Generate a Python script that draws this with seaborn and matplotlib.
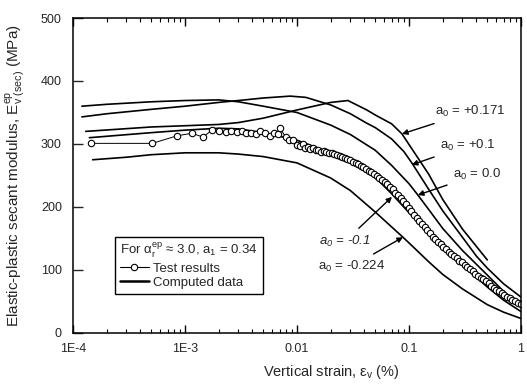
import numpy as np
import pandas as pd
import matplotlib
matplotlib.use('Agg')
import matplotlib.pyplot as plt
from matplotlib.lines import Line2D
import seaborn as sns


# ========== Data ==========

# computed curves, one per a0 value
strain_p171 = [1.3e-4, 5e-4, 1e-3, 2e-3, 3e-3, 5e-3, 0.01, 0.02, 0.0285, 0.042, 0.05, 0.07,
               0.0866, 0.12, 0.15, 0.2, 0.3, 0.5]
E_p171 = [320, 327, 329, 331, 334, 341, 354, 366, 369, 354, 346, 332,
          316, 278, 252, 212, 165, 116]

strain_p01 = [1.2e-4, 2e-4, 5e-4, 1e-3, 2e-3, 3e-3, 5e-3, 0.0087, 0.012, 0.02, 0.03, 0.042,
              0.05, 0.07, 0.09, 0.106, 0.15, 0.2, 0.3, 0.4, 0.5, 0.7, 1.0]
E_p01 = [343, 348, 355, 360, 366, 369, 373, 376, 374, 362, 348, 333,
         326, 308, 288, 270, 228, 194, 152, 122, 103, 78, 57]

strain_00 = [1.2e-4, 2e-4, 5e-4, 1e-3, 2e-3, 3e-3, 5e-3, 0.01, 0.02, 0.03, 0.05, 0.07,
             0.1, 0.12, 0.15, 0.2, 0.3, 0.5, 0.7, 1.0]
E_00 = [360, 363, 367, 369, 370, 367, 360, 350, 330, 315, 290, 266,
        237, 219, 196, 166, 131, 92, 66, 42]

strain_m01 = [1.4e-4, 5e-4, 1e-3, 2e-3, 3e-3, 5e-3, 0.01, 0.02, 0.03, 0.05, 0.07, 0.1,
              0.15, 0.2, 0.3, 0.5, 0.7, 1.0]
E_m01 = [310, 318, 322, 325, 324, 318, 306, 286, 270, 247, 221, 191,
         158, 137, 108, 73, 52, 34]

strain_m0224 = [1.5e-4, 3e-4, 5e-4, 1e-3, 2e-3, 3e-3, 5e-3, 0.01, 0.02, 0.03, 0.05, 0.0883,
                0.1, 0.15, 0.2, 0.3, 0.5, 0.7, 1.0]
E_m0224 = [275, 279, 283, 286, 286, 284, 280, 270, 246, 226, 192, 152,
           143, 113, 93, 70, 45, 33, 23]

# test results (open circles), sparse at small strain, dense band beyond 0.01 %
strain_test = [1.45e-4, 5.1e-4, 8.5e-4, 1.15e-3, 1.45e-3, 1.74e-3, 2.0e-3, 2.3e-3, 2.6e-3,
               2.9e-3, 3.2e-3, 3.5e-3, 3.9e-3, 4.3e-3, 4.7e-3, 5.2e-3, 5.7e-3, 6.2e-3,
               6.8e-3, 7.1e-3, 7.9e-3, 8.5e-3, 9.2e-3,
               0.0100, 0.0106, 0.0112, 0.0118, 0.0125, 0.0132, 0.0139, 0.0147, 0.0155,
               0.0164, 0.0173, 0.0183, 0.0193, 0.0204, 0.0215, 0.0227, 0.0240, 0.0253,
               0.0267, 0.0282, 0.0298, 0.0315, 0.0333, 0.0351, 0.0371, 0.0392, 0.0414,
               0.0437, 0.0461, 0.0487, 0.0514, 0.0543, 0.0573, 0.0605, 0.0639, 0.0675,
               0.0713, 0.0753, 0.0795, 0.0840, 0.0887, 0.0937, 0.0990, 0.105, 0.111,
               0.117, 0.124, 0.131, 0.138, 0.146, 0.154, 0.163, 0.172, 0.182, 0.192,
               0.203, 0.214, 0.226, 0.239, 0.252, 0.266, 0.281, 0.297, 0.314, 0.331,
               0.350, 0.370, 0.390, 0.412, 0.435, 0.460, 0.486, 0.513, 0.542, 0.572,
               0.604, 0.638, 0.674, 0.712, 0.752, 0.794, 0.839, 0.886, 0.935, 0.990]
E_test = [301, 301, 313, 317, 311, 322, 320, 319, 320,
          319, 320, 318, 318, 316, 321, 317, 313, 318,
          316, 325, 311, 307, 306,
          299, 297, 300, 294, 296, 292, 293, 290, 291,
          288, 289, 287, 286, 285, 284, 283, 281, 279,
          277, 276, 274, 272, 270, 268, 265, 263, 260,
          257, 255, 252, 249, 246, 243, 239, 236, 232,
          228, 223, 219, 214, 209, 204, 198, 193, 188,
          183, 178, 173, 168, 163, 158, 153, 149, 145,
          141, 137, 133, 129, 126, 122, 119, 115, 112,
          108, 105, 101, 98, 94, 91, 88, 85, 82,
          79, 75, 72, 69, 66, 63, 60, 57, 55,
          52, 50, 48, 46]

curve_labels = ['+0.171', '+0.1', '0.0', '-0.1', '-0.224']
curve_strains = [strain_p171, strain_p01, strain_00, strain_m01, strain_m0224]
curve_moduli = [E_p171, E_p01, E_00, E_m01, E_m0224]

xtick_vals = [1e-4, 1e-3, 1e-2, 1e-1, 1]
xtick_labels = ['1E-4', '1E-3', '0.01', '0.1', '1']
ytick_vals = [0, 100, 200, 300, 400, 500]


# ========== Figure ==========

sns.set_theme(style='ticks')
plt.rcParams['font.family'] = ['Liberation Sans', 'DejaVu Sans']
plt.rcParams['mathtext.default'] = 'regular'

computed = pd.concat([
    pd.DataFrame({'strain': s, 'E': e, 'a0': lab})
    for s, e, lab in zip(curve_strains, curve_moduli, curve_labels)
])
test = pd.DataFrame({'strain': strain_test, 'E': E_test})

fig = plt.figure(figsize=(5.27, 3.88), dpi=100)
ax = fig.add_axes([0.1385, 0.1418, 0.8501, 0.8118])

sns.lineplot(data=computed, x='strain', y='E', units='a0', estimator=None,
             sort=False, color='black', lw=1.2, ax=ax)
sns.lineplot(data=test, x='strain', y='E', estimator=None, sort=False,
             color='black', lw=0.7, marker='o', markersize=4.6,
             markerfacecolor='white', markeredgecolor='black',
             markeredgewidth=0.8, ax=ax)

ax.set_xscale('log')
ax.set_xlim(1e-4, 1)
ax.set_ylim(0, 500)
ax.set_xticks(xtick_vals)
ax.set_xticklabels(xtick_labels)
ax.set_yticks(ytick_vals)

ax.tick_params(axis='x', which='both', direction='in', top=True, bottom=True,
               labelsize=9, pad=7, color='black')
ax.tick_params(axis='x', which='major', length=6, width=1)
ax.tick_params(axis='x', which='minor', length=3, width=0.8)
ax.tick_params(axis='y', which='major', direction='in', left=True, right=False,
               length=7, width=1, labelsize=9, pad=8)
ax.yaxis.set_minor_locator(matplotlib.ticker.NullLocator())

for sp in ax.spines.values():
    sp.set_color('black')
    sp.set_linewidth(1.1)

ax.set_xlabel('Vertical strain, ε$_v$ (%)', fontsize=10.5)
ax.xaxis.set_label_coords(0.576, -0.095)
ax.set_ylabel('Elastic-plastic secant modulus, E$^{ep}_{v\\ (sec)}$ (MPa)', fontsize=11)
ax.yaxis.set_label_coords(-0.1, 0.5)

# ========== Annotations ==========

arrow = dict(arrowstyle='-|>', color='black', lw=1, mutation_scale=8, shrinkA=2, shrinkB=0)
ax.annotate('a$_0$ = +0.171', xy=(0.0866, 316), xytext=(0.171, 351),
            ha='left', va='center', fontsize=9.5, arrowprops=arrow)
ax.annotate('a$_0$ = +0.1', xy=(0.106, 267), xytext=(0.189, 298),
            ha='left', va='center', fontsize=9.5, arrowprops=arrow)
ax.annotate('a$_0$ = 0.0', xy=(0.120, 219), xytext=(0.247, 251),
            ha='left', va='center', fontsize=9.5, arrowprops=arrow)
ax.annotate('a$_0$ = -0.1', xy=(0.0705, 216), xytext=(0.046, 146),
            ha='right', va='center', fontsize=9.5, style='italic', arrowprops=arrow)
ax.annotate('a$_0$ = -0.224', xy=(0.0883, 152), xytext=(0.062, 106),
            ha='right', va='center', fontsize=9.5, arrowprops=arrow)

# ========== Legend ==========

handles = [
    Line2D([], [], color='black', lw=0.8, marker='o', markersize=4.6,
           markerfacecolor='white', markeredgecolor='black', markeredgewidth=0.8),
    Line2D([], [], color='black', lw=1.8),
]
leg = ax.legend(handles, ['Test results', 'Computed data'],
                title='For α$_r^{ep}$ ≈ 3.0, a$_1$ = 0.34',
                loc='upper left', bbox_to_anchor=(0.078, 0.327),
                fontsize=9.5, title_fontsize=9.5, alignment='left',
                frameon=True, fancybox=False, framealpha=1,
                edgecolor='black', handlelength=2.2, handletextpad=0.3,
                borderpad=0.4, labelspacing=0.15)
leg.get_frame().set_linewidth(1)

fig.savefig('out.png', dpi=100)
